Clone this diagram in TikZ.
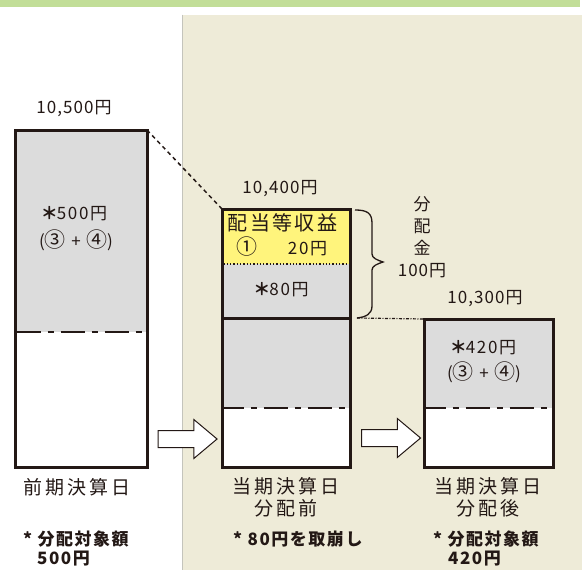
\documentclass[tikz,border=0pt]{standalone}
\usepackage{fontspec}
\setmainfont{Noto Sans CJK JP}
\usetikzlibrary{shapes.arrows}
\definecolor{topgreen}{HTML}{C2DE98}
\definecolor{beige}{HTML}{EEEBD8}
\definecolor{sepgray}{HTML}{C4C4BC}
\definecolor{boxgray}{HTML}{DCDCDC}
\definecolor{yel}{HTML}{FFF47C}
\definecolor{ink}{HTML}{231815}
\newcommand\circd[1]{{\fontsize{21}{20}\selectfont #1}}
\newcommand\myast{{\bfseries ＊}\kern-1pt}
\begin{document}
\begin{tikzpicture}[x=1pt,y=-1pt,
  boxline/.style={draw=ink, line width=3pt, inner sep=0pt, outer sep=0pt, anchor=north west},
  dashdotline/.style={draw=ink, line width=1.5pt, dash pattern=on 24pt off 7pt on 6pt off 7pt},
  dotline/.style={draw=ink, line width=1.3pt, dash pattern=on 1.3pt off 2pt},
  connA/.style={draw=ink, line width=1.5pt, dash pattern=on 4pt off 3.5pt},
  connB/.style={draw=ink, line width=1.2pt, dash pattern=on 3pt off 1.5pt on 1pt off 1.5pt},
  bracestyle/.style={draw=ink, line width=1.3pt},
  blockarrow/.style={shape=single arrow, draw=ink, line width=1pt, fill=white,
    inner xsep=0pt, inner ysep=8pt, single arrow head extend=11pt,
    single arrow tip angle=80, minimum height=59pt},
  amt/.style={text=ink, inner sep=0pt, font=\fontsize{17}{20}\selectfont\addfontfeature{LetterSpace=6}},
  intext/.style={text=ink, inner sep=0pt, font=\fontsize{17}{20}\selectfont\addfontfeature{LetterSpace=10}},
  big/.style={text=ink, inner sep=0pt, font=\fontsize{20}{22}\selectfont\addfontfeature{LetterSpace=12}},
  lbl/.style={text=ink, inner sep=0pt, align=center, font=\fontsize{19}{21.5}\selectfont\addfontfeature{LetterSpace=15}},
  note/.style={text=ink, inner sep=0pt, anchor=west, font=\bfseries\fontsize{17}{19}\selectfont\addfontfeature{LetterSpace=9}},
]
\useasboundingbox (0,0) rectangle (582,570);
% background
\fill[topgreen] (0,0) rectangle (580,6.7);
\fill[beige] (182,14.5) rectangle (582,570);
\draw[sepgray, line width=1pt] (182,14.5) -- (182,570);
% fills
\fill[boxgray] (15,130) rectangle (147,332);
\fill[white] (15,332) rectangle (147,467);
\fill[yel] (222,209) rectangle (350,264);
\fill[boxgray] (222,264) rectangle (350,408);
\fill[white] (222,408) rectangle (350,467);
\fill[boxgray] (424,319) rectangle (553,408);
\fill[white] (424,408) rectangle (553,467);
% inner lines
\draw[dashdotline] (16.5,332) -- (145.5,332);
\draw[dashdotline, dash phase=4pt] (223.5,408) -- (348.5,408);
\draw[dashdotline, dash phase=4pt] (425.5,408) -- (551.5,408);
\draw[dotline] (223.5,264) -- (348.5,264);
% boxes
\node[boxline, minimum width=132pt, minimum height=337pt] (b1) at (15,130) {};
\node[boxline, minimum width=128pt, minimum height=109pt] (b2a) at (222,209) {};
\node[boxline, minimum width=128pt, minimum height=149pt] (b2b) at (222,318) {};
\node[boxline, minimum width=129pt, minimum height=148pt] (b3) at (424,319) {};
% connectors
\draw[connA] (b1.north east) -- (b2a.north west);
\coordinate (bb) at (357,318);
\draw[connB] (bb) -- (b3.north west);
\draw[bracestyle] (355,210) .. controls (367,210) and (372,213) .. (372,223) -- (372,254)
  .. controls (372,258) and (377,260) .. (383,262) .. controls (377,264) and (372,266) .. (372,270)
  -- (372,306) .. controls (372,314) and (366,317) .. (bb);
% arrows
\node[blockarrow] (a1) at (182.5,439) {};
\node[blockarrow] (a2) at (386,438) {};
% texts
\node[amt] (t1) at (74,109) {10,500円};
\node[intext] (t1a) at (74,214) {\myast 500円};
\node[intext] (t1b) at (76,240) {(\circd{③} + \circd{④})};
\node[amt] (t2) at (280,189) {10,400円};
\node[big] (t2a) at (282.5,222.5) {配当等収益};
\node[intext] (t2b) at (282,247) {\circd{①}\hspace{30pt}20円};
\node[intext] (t2c) at (281,290) {\myast 80円};
\node[amt, align=center, font=\fontsize{17}{22}\selectfont\addfontfeature{LetterSpace=6}] (t2d) at (422,237) {分\\配\\金\\100円};
\node[amt] (t3) at (485,299) {10,300円};
\node[intext] (t3a) at (483,348) {\myast 420円};
\node[intext] (t3b) at (484,372) {(\circd{③} + \circd{④})};
\node[lbl] (l1) at (77,487) {前期決算日};
\node[lbl] (l2) at (286,497.5) {当期決算日\\分配前};
\node[lbl] (l3) at (488,497.5) {当期決算日\\分配後};
\node[note] (n1) at (23,539) {* 分配対象額};
\node[note] (n1b) at (37,559) {500円};
\node[note] (n2) at (233,539) {* 80円を取崩し};
\node[note] (n3) at (433,539) {* 分配対象額};
\node[note] (n3b) at (448,559) {420円};
\end{tikzpicture}
\end{document}
